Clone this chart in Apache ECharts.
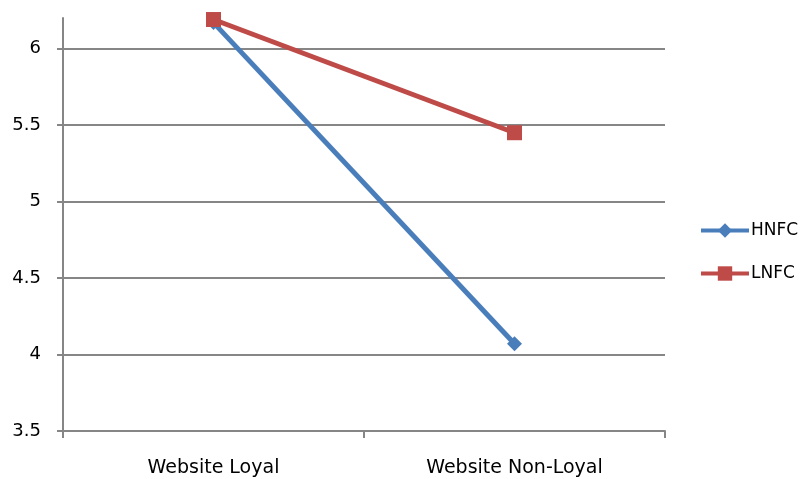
<!DOCTYPE html>
<html>
<head>
<meta charset="utf-8">
<script src="https://cdn.jsdelivr.net/npm/echarts@6/dist/echarts.min.js"></script>
<style>
  html, body { margin: 0; padding: 0; background: #fff; }
  #chart { width: 801px; height: 479px; }
</style>
</head>
<body>
<div id="chart"></div>
<script>
var categories = ['Website Loyal', 'Website Non-Loyal'];
var hnfc = [6.17, 4.07];
var lnfc = [6.19, 5.45];
var yTicks = [3.5, 4, 4.5, 5, 5.5, 6];

var chart = echarts.init(document.getElementById('chart'));

var font = 'DejaVu Sans';

var option = {
  animation: false,
  backgroundColor: '#fff',
  grid: { left: 63, right: 136, top: 18, bottom: 48 },
  legend: {
    orient: 'vertical',
    left: 694,
    top: 217,
    itemGap: 26,
    itemWidth: 48,
    itemHeight: 18,
    lineStyle: { width: 4 },
    textStyle: { fontFamily: font, fontSize: 17, color: '#000', padding: [0, 0, 0, -3] },
    data: ['HNFC', 'LNFC']
  },
  xAxis: {
    type: 'category',
    data: categories,
    boundaryGap: true,
    axisLine: { lineStyle: { color: '#868686', width: 2 } },
    axisTick: { show: true, length: 7, lineStyle: { color: '#868686', width: 2 } },
    axisLabel: { fontFamily: font, fontSize: 19, color: '#000', margin: 28 }
  },
  yAxis: {
    type: 'value',
    min: 3.5,
    max: 6.2,
    interval: 0.5,
    axisLine: { show: true, lineStyle: { color: '#868686', width: 2 } },
    axisTick: { show: true, length: 6, lineStyle: { color: '#868686', width: 2 } },
    axisLabel: {
      fontFamily: font, fontSize: 18, color: '#000', margin: 22,
      showMaxLabel: false,
      formatter: function (v) { return yTicks.indexOf(v) >= 0 ? String(v) : ''; }
    },
    splitLine: { show: true, showMaxLine: false, lineStyle: { color: '#868686', width: 2 } }
  },
  series: [
    {
      name: 'HNFC',
      type: 'line',
      data: hnfc,
      symbol: 'diamond',
      symbolSize: 15,
      lineStyle: { color: '#4a7ebb', width: 5 },
      itemStyle: { color: '#4a7ebb' }
    },
    {
      name: 'LNFC',
      type: 'line',
      data: lnfc,
      symbol: 'rect',
      symbolSize: 15,
      lineStyle: { color: '#be4b48', width: 5 },
      itemStyle: { color: '#be4b48' }
    }
  ]
};

chart.setOption(option);
</script>
</body>
</html>
